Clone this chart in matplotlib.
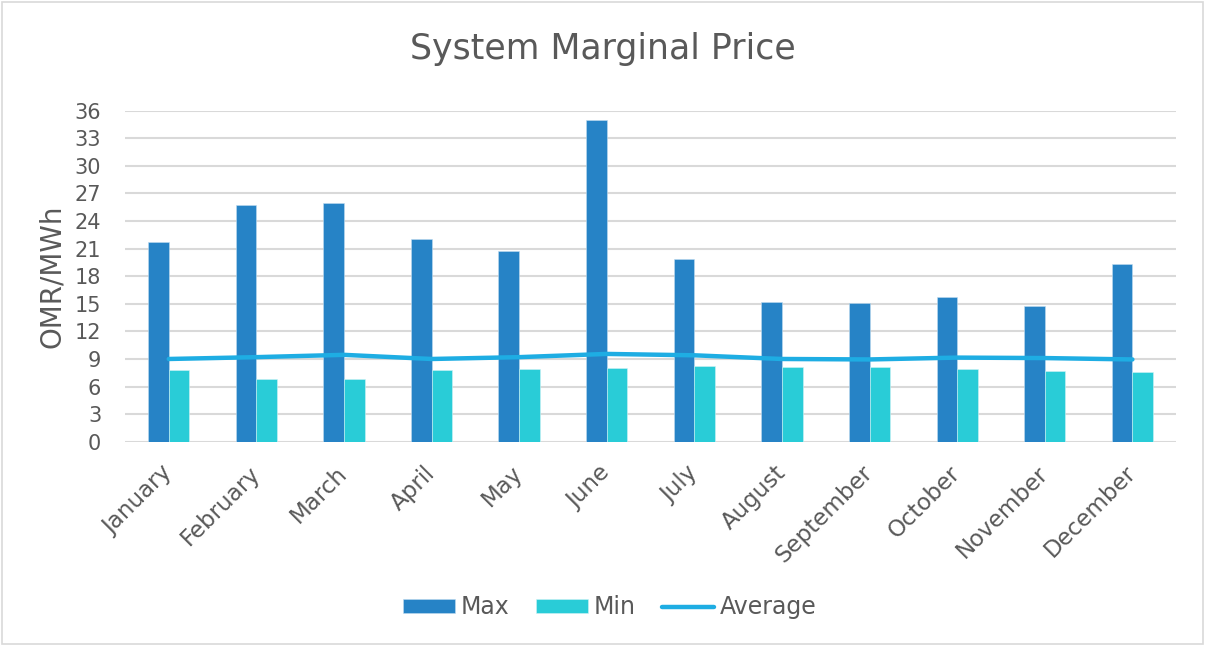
import matplotlib
matplotlib.use("Agg")
import matplotlib.pyplot as plt
import numpy as np
from matplotlib.patches import Rectangle

months = ["January", "February", "March", "April", "May", "June", "July",
          "August", "September", "October", "November", "December"]
max_vals = [21.7, 25.7, 26.0, 22.1, 20.7, 35.0, 19.9, 15.2, 15.1, 15.7, 14.8, 19.3]
min_vals = [7.8, 6.8, 6.8, 7.8, 7.9, 8.0, 8.2, 8.1, 8.1, 7.9, 7.7, 7.6]
avg_vals = [9.0, 9.2, 9.45, 9.0, 9.2, 9.55, 9.4, 9.0, 8.95, 9.15, 9.1, 8.95]
yticks = list(range(0, 37, 3))

plt.rcParams['font.family'] = ['DejaVu Sans']
text_color = '#595959'

fig = plt.figure(figsize=(12.05, 6.46), dpi=100)
ax = fig.add_axes([0.1037, 0.3162, 0.8724, 0.5124])

x = np.arange(len(months))
w = 0.236
b1 = ax.bar(x - w / 2, max_vals, width=w, color='#2683C6', edgecolor='#BFDCF0', linewidth=0.4, label='Max', zorder=2)
b2 = ax.bar(x + w / 2, min_vals, width=w, color='#29CCD7', edgecolor='#CFF3F5', linewidth=0.4, label='Min', zorder=2)
l1, = ax.plot(x, avg_vals, color='#1EADE3', linewidth=3.2, solid_capstyle='round', label='Average', zorder=3)

ax.set_xlim(-0.5, len(months) - 0.5)
ax.set_ylim(0, 36)
ax.set_yticks(yticks)
ax.set_yticklabels([str(t) for t in yticks], fontsize=15, color=text_color)
ax.set_xticks(x)
ax.set_xticklabels(months, rotation=45, ha='right', va='center', rotation_mode='anchor',
                   fontsize=16.5, color=text_color)
ax.tick_params(axis='y', length=0, pad=17)
ax.tick_params(axis='x', length=0, pad=20)
ax.grid(axis='y', color='#D9D9D9', linewidth=1.5, zorder=0)
ax.set_axisbelow(True)
for s in ax.spines.values():
    s.set_visible(False)

ax.set_ylabel('OMR/MWh', fontsize=20, color=text_color, labelpad=6)
fig.suptitle('System Marginal Price', fontsize=25, color=text_color, y=0.95)

leg = fig.legend([b1, b2, l1], ['Max', 'Min', 'Average'], loc='center', bbox_to_anchor=(0.506, 0.06),
                 ncol=3, frameon=False, fontsize=17, handlelength=2.2, handleheight=0.55,
                 columnspacing=1.1, handletextpad=0.25)
for t in leg.get_texts():
    t.set_color(text_color)

fig.patches.append(Rectangle((0.002, 0.003), 0.996, 0.994, transform=fig.transFigure,
                             fill=False, edgecolor='#D9D9D9', linewidth=1.2))

fig.savefig('out.png', dpi=100, facecolor='white')
